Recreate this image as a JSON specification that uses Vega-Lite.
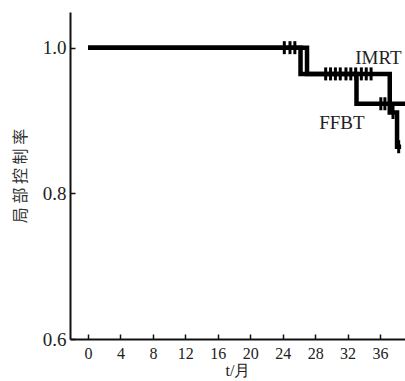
{
  "$schema": "https://vega.github.io/schema/vega-lite/v6.json",
  "width": 335,
  "height": 327,
  "autosize": "none",
  "padding": {"left": 70, "top": 12, "right": 0, "bottom": 42},
  "background": "white",
  "config": {
    "view": {"stroke": null},
    "axis": {
      "domainColor": "#111",
      "domainWidth": 2,
      "tickColor": "#111",
      "tickWidth": 1.5,
      "grid": false,
      "labelFont": "Liberation Serif",
      "labelFontSize": 17,
      "labelColor": "#222",
      "labelOverlap": false
    },
    "axisX": {"labelOverlap": false}
  },
  "datasets": {
    "curves": [
      {"group": "IMRT", "t": 0, "s": 1.0},
      {"group": "IMRT", "t": 27.0, "s": 0.964},
      {"group": "IMRT", "t": 37.2, "s": 0.911},
      {"group": "IMRT", "t": 38.1, "s": 0.864},
      {"group": "IMRT", "t": 38.6, "s": 0.864},
      {"group": "FFBT", "t": 0, "s": 1.0},
      {"group": "FFBT", "t": 26.2, "s": 0.964},
      {"group": "FFBT", "t": 33.1, "s": 0.923},
      {"group": "FFBT", "t": 39.5, "s": 0.923}
    ],
    "censor": [
      {"t": 24.2, "s": 1.0},
      {"t": 24.9, "s": 1.0},
      {"t": 25.5, "s": 1.0},
      {"t": 29.3, "s": 0.964},
      {"t": 29.9, "s": 0.964},
      {"t": 30.5, "s": 0.964},
      {"t": 31.1, "s": 0.964},
      {"t": 31.8, "s": 0.964},
      {"t": 32.4, "s": 0.964},
      {"t": 33.0, "s": 0.964},
      {"t": 33.7, "s": 0.964},
      {"t": 34.3, "s": 0.964},
      {"t": 34.9, "s": 0.964},
      {"t": 36.1, "s": 0.923},
      {"t": 36.6, "s": 0.923},
      {"t": 37.6, "s": 0.911},
      {"t": 38.3, "s": 0.864}
    ],
    "labels": [
      {"t": 35.8, "s": 0.9856, "label": "IMRT"},
      {"t": 31.3, "s": 0.896, "label": "FFBT"}
    ]
  },
  "encoding": {
    "x": {
      "field": "t", "type": "quantitative",
      "scale": {"domain": [-2.22, 39.08], "nice": false, "zero": false},
      "axis": {
        "values": [0, 4, 8, 12, 16, 20, 24, 28, 32, 36],
        "labelOverlap": false,
        "labelFontSize": 16,
        "tickSize": -5,
        "labelPadding": 11,
        "title": "t/月",
        "titleFont": "Liberation Serif",
        "titleFontSize": 16,
        "titleFontWeight": "normal",
        "titleColor": "#222",
        "titlePadding": 1
      }
    },
    "y": {
      "field": "s", "type": "quantitative",
      "scale": {"domain": [0.6, 1.049], "nice": false, "zero": false},
      "axis": {
        "values": [0.6, 0.8, 1.0],
        "format": ".1f",
        "tickSize": -5,
        "labelPadding": 9,
        "labelFontSize": 19,
        "title": "局 部 控 制 率",
        "titleFont": "Noto Sans CJK SC",
        "titleFontSize": 16,
        "titleFontWeight": "normal",
        "titleColor": "#333",
        "titleX": -50,
        "titleBaseline": "middle"
      }
    }
  },
  "layer": [
    {
      "data": {"name": "curves"},
      "mark": {"type": "line", "interpolate": "step-after", "strokeWidth": 4.5, "color": "#000", "clip": true},
      "encoding": {"detail": {"field": "group"}}
    },
    {
      "data": {"name": "censor"},
      "mark": {"type": "tick", "orient": "vertical", "size": 13, "thickness": 3, "color": "#000", "opacity": 1, "clip": true},
      "encoding": {}
    },
    {
      "data": {"name": "labels"},
      "mark": {"type": "text", "font": "Liberation Serif", "fontSize": 19, "color": "#222"},
      "encoding": {"text": {"field": "label"}}
    }
  ]
}
